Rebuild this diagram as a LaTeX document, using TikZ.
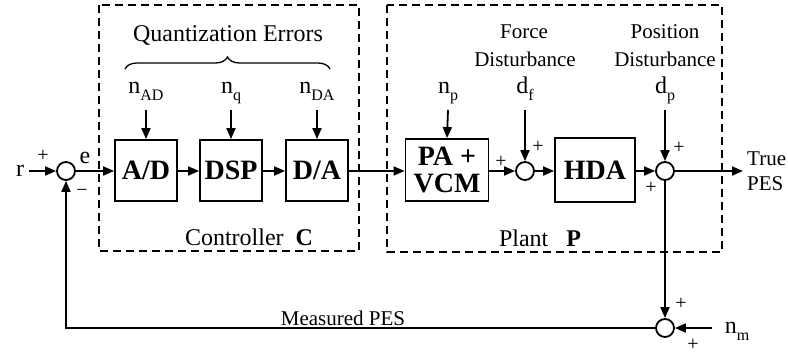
\documentclass[tikz,border=0pt]{standalone}
\usepackage{fontspec}
\setmainfont{Liberation Serif}
\usetikzlibrary{arrows.meta,decorations.pathreplacing}
\newcommand\fs[1]{\fontsize{#1}{#1}\selectfont}
\newcommand\nsub[2]{#1\raisebox{-7pt}{\fs{16}#2}}
\begin{document}
\begin{tikzpicture}[x=1pt,y=-1pt,
  blk/.style={draw,line width=1.8pt,inner sep=0pt,font=\fs{28}\bfseries,align=center},
  sumc/.style={circle,draw,line width=1.8pt,minimum size=18pt,inner sep=0pt},
  arr/.style={line width=1.8pt,-{Triangle[length=11pt,width=9pt]}},
  dbox/.style={line width=1.6pt,dash pattern=on 8pt off 5pt},
  lab/.style={inner sep=0pt,font=\fs{24}},
  sml/.style={inner sep=0pt,font=\fs{21}},
  pm/.style={inner sep=0pt,font=\fs{20}},
]
\useasboundingbox (0,0) rectangle (788,354);
% dashed frames
\draw[dbox] (99,5) rectangle (359,251);
\draw[dbox] (387,5) rectangle (722,252);
% blocks
\node[blk,minimum width=62pt,minimum height=61pt] (ad) at (146,170.5) {A/D};
\node[blk,minimum width=62pt,minimum height=61pt] (dsp) at (231,170.5) {DSP};
\node[blk,minimum width=62pt,minimum height=61pt] (da) at (317,170.5) {D/A};
\node[blk,minimum width=83pt,minimum height=62pt] (pa) at (447,170) {\fs{28}\bfseries PA +\\[-1pt]\fs{28}\bfseries VCM};
\node[blk,minimum width=80pt,minimum height=64pt] (hda) at (595,170) {HDA};
% summing junctions
\node[sumc] (s1) at (66,171) {};
\node[sumc] (s2) at (525,171) {};
\node[sumc] (s3) at (665,171) {};
\node[sumc] (s4) at (665,328) {};
% labels
\node[lab] (r) at (20,171) {r};
\node[lab] (e) at (85,158) {e};
\node[lab] (qe) at (228,35) {Quantization Errors};
\draw[line width=1.3pt,decorate,decoration={brace,amplitude=12pt}] (125,69) -- (330,69);
\node[lab,anchor=base] (nad) at (146,93) {\nsub{n}{AD}};
\node[lab,anchor=base] (nq) at (231,93) {\nsub{n}{q}};
\node[lab,anchor=base] (nda) at (317,93) {\nsub{n}{DA}};
\node[lab,anchor=base] (np) at (448,93) {\nsub{n}{p}};
\node[lab,anchor=base] (df) at (525,93) {\nsub{d}{f}};
\node[lab,anchor=base] (dp) at (665,93) {\nsub{d}{p}};
\node[sml] (force) at (524,32) {Force};
\node[sml] (fdist) at (525,59) {Disturbance};
\node[sml] (pos) at (665,32) {Position};
\node[sml] (pdist) at (665,59) {Disturbance};
\node[sml,anchor=west] (true) at (747,159) {True};
\node[sml,anchor=west] (pes) at (747,184) {PES};
\node[lab] (ctrl) at (249,237) {Controller\hspace{12pt}\textbf{C}};
\node[lab] (plant) at (540,238) {Plant\hspace{18pt}\textbf{P}};
\node[sml] (mpes) at (343,318) {Measured PES};
\node[lab,anchor=base] (nm) at (737,333) {\nsub{n}{m}};
% signs
\node[pm] (p1) at (43,156) {+};
\node[pm] (m1) at (82,193) {−};
\node[pm] (p2a) at (501,162) {+};
\node[pm] (p2b) at (538,147) {+};
\node[pm] (p3a) at (679,148) {+};
\node[pm] (p3b) at (651,188) {+};
\node[pm] (p4a) at (681,304) {+};
\node[pm] (p4b) at (693,345) {+};
% coordinates for free ends
\coordinate (rin) at (29,171);
\coordinate (cad) at (146,110);
\coordinate (cq) at (231,110);
\coordinate (cda) at (317,110);
\coordinate (cp) at (448,110);
\coordinate (cf) at (525,110);
\coordinate (cdp) at (665,110);
\coordinate (out) at (743,171);
\coordinate (cnm) at (712,328);
\coordinate (fb) at (66,328);
% connectors
\draw[arr] (rin) -- (s1.west);
\draw[arr] (s1.east) -- (s1.east -| ad.west);
\draw[arr] (ad.east |- s1) -- (dsp.west |- s1);
\draw[arr] (dsp.east |- s1) -- (da.west |- s1);
\draw[arr] (da.east |- s1) -- (pa.west |- s1);
\draw[arr] (pa.east |- s2) -- (s2.west);
\draw[arr] (s2.east) -- (hda.west |- s2);
\draw[arr] (hda.east |- s3) -- (s3.west);
\draw[arr] (s3.east) -- (out);
\draw[arr] (cad) -- (ad.north);
\draw[arr] (cq) -- (dsp.north);
\draw[arr] (cda) -- (da.north);
\draw[arr] (cp) -- (pa.north);
\draw[arr] (cf) -- (s2.north);
\draw[arr] (cdp) -- (s3.north);
\draw[arr] (s3.south) -- (s4.north);
\draw[arr] (cnm) -- (s4.east);
\draw[arr] (s4.west) -- (fb) -- (s1.south);
\end{tikzpicture}
\end{document}
